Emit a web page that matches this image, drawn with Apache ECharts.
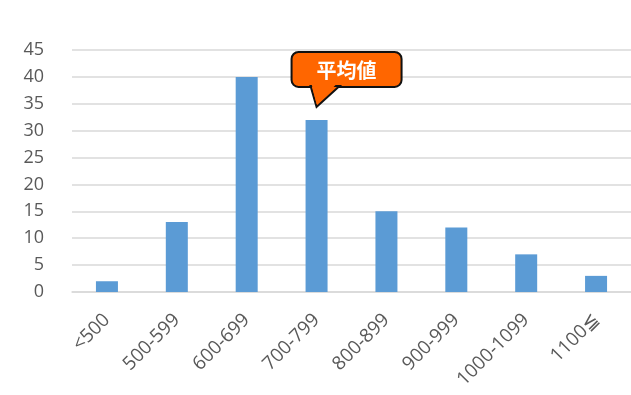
<!DOCTYPE html>
<html><head><meta charset="utf-8">
<script src="https://cdn.jsdelivr.net/npm/echarts@6/dist/echarts.min.js"></script>
<style>html,body{margin:0;padding:0;background:#fff}#c{width:631px;height:395px}</style>
</head><body><div id="c"></div>
<script>
const categories = ['<500','500-599','600-699','700-799','800-899','900-999','1000-1099','1100≦'];
const counts = [2,13,40,32,15,12,7,3];
const yTicks = {min:0, max:45, interval:5};
const calloutText = '平均値';
const calloutCategory = '700-799';

const chart = echarts.init(document.getElementById('c'), null, {renderer:'canvas'});
const font = '"Open Sans", "Liberation Sans", sans-serif';
chart.setOption({
  animation:false,
  backgroundColor:'#ffffff',
  grid:{left:72, right:-3, top:50, bottom:103, containLabel:false},
  xAxis:{type:'category', data:categories,
    axisLine:{show:true, lineStyle:{color:'#d9d9d9', width:1.5}},
    axisTick:{show:false},
    axisLabel:{rotate:45, color:'#595959', fontSize:19, fontFamily:font, margin:25, interval:0,
      align:'right', verticalAlign:'middle', padding:[9,0,0,0]}
  },
  yAxis:{type:'value', min:yTicks.min, max:yTicks.max, interval:yTicks.interval,
    axisLine:{show:false}, axisTick:{show:false},
    splitLine:{lineStyle:{color:'#d9d9d9', width:1.5}},
    axisLabel:{color:'#595959', fontSize:18, fontFamily:font, margin:28}
  },
  series:[{type:'bar', data:counts, barWidth:22, itemStyle:{color:'#5b9bd5'}}]
});

const idx = categories.indexOf(calloutCategory);
const p = chart.convertToPixel({seriesIndex:0}, [idx, counts[idx]]);
const tipX = p[0], tipY = p[1] - 13;
const orange = '#ff6600';
chart.setOption({graphic:[
  {type:'rect', shape:{x:tipX-25, y:tipY-55, width:110, height:35, r:7},
   style:{fill:orange, stroke:'#111', lineWidth:2}, z:100},
  {type:'polygon', shape:{points:[[tipX-6,tipY-21],[tipX,tipY],[tipX+23,tipY-21]]},
   style:{fill:orange, stroke:'#111', lineWidth:2}, z:101},
  {type:'polygon', shape:{points:[[tipX-5,tipY-23],[tipX,tipY-3],[tipX+20,tipY-23]]},
   style:{fill:orange, stroke:null}, z:102},
  {type:'text', x:tipX+30, y:tipY-37,
   style:{text:calloutText, fill:'#fff', font:'bold 20px "Noto Sans CJK JP", sans-serif', align:'center', verticalAlign:'middle'}, z:103}
]});
</script></body></html>
